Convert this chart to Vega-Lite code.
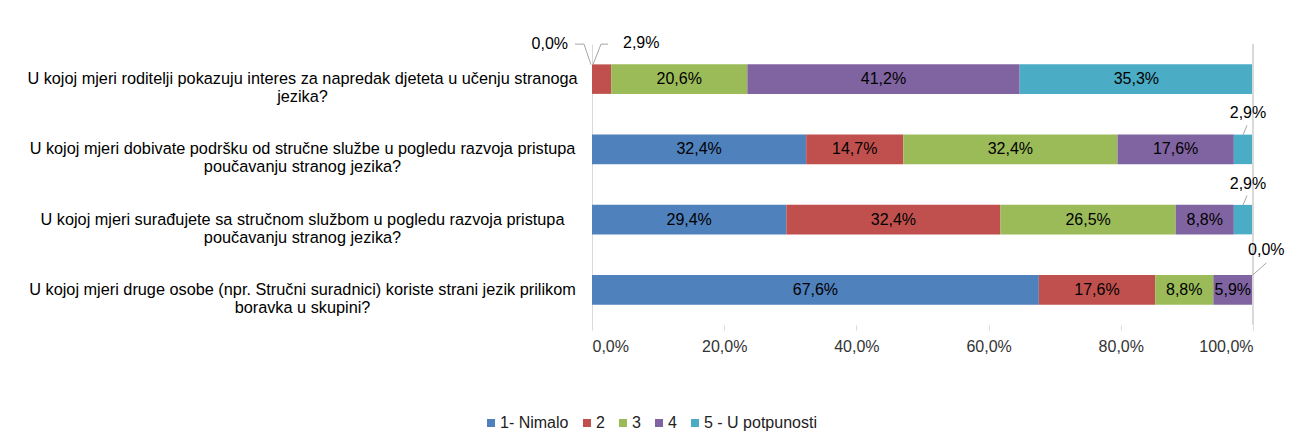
{
  "$schema": "https://vega.github.io/schema/vega-lite/v6.json",
  "width": 661,
  "height": 281,
  "autosize": {"type": "none"},
  "padding": {"left": 592, "top": 44, "right": 38, "bottom": 119},
  "background": "white",
  "config": {
    "locale": {"number": {"decimal": ",", "thousands": ".", "grouping": [3], "currency": ["", " €"]}},
    "font": "Liberation Sans",
    "view": {"stroke": null}
  },
  "data": {
    "values": [
      {"q": "U kojoj mjeri roditelji pokazuju interes za napredak djeteta u učenju stranoga\njezika?", "c": "1- Nimalo", "k": 1, "v": 0.0},
      {"q": "U kojoj mjeri roditelji pokazuju interes za napredak djeteta u učenju stranoga\njezika?", "c": "2", "k": 2, "v": 0.029},
      {"q": "U kojoj mjeri roditelji pokazuju interes za napredak djeteta u učenju stranoga\njezika?", "c": "3", "k": 3, "v": 0.206},
      {"q": "U kojoj mjeri roditelji pokazuju interes za napredak djeteta u učenju stranoga\njezika?", "c": "4", "k": 4, "v": 0.412},
      {"q": "U kojoj mjeri roditelji pokazuju interes za napredak djeteta u učenju stranoga\njezika?", "c": "5 - U potpunosti", "k": 5, "v": 0.353},
      {"q": "U kojoj mjeri dobivate podršku od stručne službe u pogledu razvoja pristupa\npoučavanju stranog jezika?", "c": "1- Nimalo", "k": 1, "v": 0.324},
      {"q": "U kojoj mjeri dobivate podršku od stručne službe u pogledu razvoja pristupa\npoučavanju stranog jezika?", "c": "2", "k": 2, "v": 0.147},
      {"q": "U kojoj mjeri dobivate podršku od stručne službe u pogledu razvoja pristupa\npoučavanju stranog jezika?", "c": "3", "k": 3, "v": 0.324},
      {"q": "U kojoj mjeri dobivate podršku od stručne službe u pogledu razvoja pristupa\npoučavanju stranog jezika?", "c": "4", "k": 4, "v": 0.176},
      {"q": "U kojoj mjeri dobivate podršku od stručne službe u pogledu razvoja pristupa\npoučavanju stranog jezika?", "c": "5 - U potpunosti", "k": 5, "v": 0.029},
      {"q": "U kojoj mjeri surađujete sa stručnom službom u pogledu razvoja pristupa\npoučavanju stranog jezika?", "c": "1- Nimalo", "k": 1, "v": 0.294},
      {"q": "U kojoj mjeri surađujete sa stručnom službom u pogledu razvoja pristupa\npoučavanju stranog jezika?", "c": "2", "k": 2, "v": 0.324},
      {"q": "U kojoj mjeri surađujete sa stručnom službom u pogledu razvoja pristupa\npoučavanju stranog jezika?", "c": "3", "k": 3, "v": 0.265},
      {"q": "U kojoj mjeri surađujete sa stručnom službom u pogledu razvoja pristupa\npoučavanju stranog jezika?", "c": "4", "k": 4, "v": 0.088},
      {"q": "U kojoj mjeri surađujete sa stručnom službom u pogledu razvoja pristupa\npoučavanju stranog jezika?", "c": "5 - U potpunosti", "k": 5, "v": 0.029},
      {"q": "U kojoj mjeri druge osobe (npr. Stručni suradnici) koriste strani jezik prilikom\nboravka u skupini?", "c": "1- Nimalo", "k": 1, "v": 0.676},
      {"q": "U kojoj mjeri druge osobe (npr. Stručni suradnici) koriste strani jezik prilikom\nboravka u skupini?", "c": "2", "k": 2, "v": 0.176},
      {"q": "U kojoj mjeri druge osobe (npr. Stručni suradnici) koriste strani jezik prilikom\nboravka u skupini?", "c": "3", "k": 3, "v": 0.088},
      {"q": "U kojoj mjeri druge osobe (npr. Stručni suradnici) koriste strani jezik prilikom\nboravka u skupini?", "c": "4", "k": 4, "v": 0.059},
      {"q": "U kojoj mjeri druge osobe (npr. Stručni suradnici) koriste strani jezik prilikom\nboravka u skupini?", "c": "5 - U potpunosti", "k": 5, "v": 0.0}
    ]
  },
  "layer": [
    {
      "mark": {"type": "bar"},
      "encoding": {
        "y": {
          "field": "q", "type": "nominal", "sort": null,
          "scale": {"paddingInner": 0.58, "paddingOuter": 0.29},
          "axis": {
            "title": null, "ticks": false, "tickSize": 0,
            "domainColor": "#d9d9d9", "domainWidth": 1,
            "labelAlign": "center", "labelPadding": 290, "labelLimit": 700,
            "labelFontSize": 16.3, "labelColor": "#000000", "labelLineHeight": 18,
            "labelBaseline": "middle",
            "labelExpr": "split(datum.value, '\\n')"
          }
        },
        "x": {
          "field": "v", "type": "quantitative", "stack": "zero",
          "scale": {"domain": [0, 1], "nice": false},
          "axis": {
            "title": null, "format": ".1%", "values": [0, 0.2, 0.4, 0.6, 0.8, 1],
            "grid": false, "domain": false, "ticks": true, "tickSize": 5, "tickColor": "#d9d9d9",
            "labelFontSize": 16, "labelColor": "#333333", "labelPadding": 8
          }
        },
        "color": {
          "field": "c", "type": "nominal",
          "scale": {
            "domain": ["1- Nimalo", "2", "3", "4", "5 - U potpunosti"],
            "range": ["#4F81BD", "#C0504D", "#9BBB59", "#8064A2", "#4BACC6"]
          },
          "legend": {
            "title": null, "orient": "none", "legendX": -109, "legendY": 371,
            "direction": "horizontal", "symbolType": "square", "symbolSize": 64,
            "symbolStrokeWidth": 0, "labelFontSize": 16, "labelColor": "#222222",
            "labelOffset": 1, "columnPadding": 10, "padding": 0
          }
        },
        "order": {"field": "k", "type": "quantitative"}
      }
    },
    {
      "mark": {"type": "text", "fontSize": 16, "color": "#000000", "baseline": "middle", "align": "center"},
      "encoding": {
        "y": {"field": "q", "type": "nominal", "sort": null},
        "x": {"field": "v", "type": "quantitative", "stack": "zero", "bandPosition": 0.5},
        "order": {"field": "k", "type": "quantitative"},
        "text": {
          "condition": {"test": "datum.v >= 0.05", "field": "v", "type": "quantitative", "format": ".1%"},
          "value": ""
        }
      }
    },
    {
      "mark": {"type": "rule", "color": "#d9d9d9", "strokeWidth": 1},
      "encoding": {"x": {"datum": 1, "type": "quantitative"}}
    },
    {
      "transform": [
        {"stack": "v", "groupby": ["q"], "sort": [{"field": "k", "order": "ascending"}], "as": ["x0", "x1"]}
      ],
      "layer": [
        {
          "transform": [{"filter": "datum.k == 1 && indexof(datum.q, 'roditelji') >= 0"}],
          "layer": [
            {
              "mark": {"type": "text", "fontSize": 16, "color": "#000000", "align": "right", "baseline": "middle", "dx": -24, "dy": -35},
              "encoding": {"y": {"field": "q", "type": "nominal", "sort": null}, "x": {"field": "x0", "type": "quantitative"}, "text": {"field": "v", "type": "quantitative", "format": ".1%"}}
            },
            {
              "mark": {"type": "rule", "color": "#a6a6a6", "xOffset": -1, "x2Offset": -8, "yOffset": -14.5, "y2Offset": -35},
              "encoding": {"y": {"field": "q", "type": "nominal", "sort": null}, "x": {"field": "x0", "type": "quantitative"}, "x2": {"field": "x0"}, "y2": {"field": "q"}}
            },
            {
              "mark": {"type": "rule", "color": "#a6a6a6", "xOffset": -8, "x2Offset": -17, "yOffset": -35, "y2Offset": -35},
              "encoding": {"y": {"field": "q", "type": "nominal", "sort": null}, "x": {"field": "x0", "type": "quantitative"}, "x2": {"field": "x0"}, "y2": {"field": "q"}}
            }
          ]
        },
        {
          "transform": [{"filter": "datum.k == 2 && indexof(datum.q, 'roditelji') >= 0"}],
          "layer": [
            {
              "mark": {"type": "text", "fontSize": 16, "color": "#000000", "align": "left", "baseline": "middle", "dx": 31, "dy": -36},
              "encoding": {"y": {"field": "q", "type": "nominal", "sort": null}, "x": {"field": "x0", "type": "quantitative"}, "text": {"field": "v", "type": "quantitative", "format": ".1%"}}
            },
            {
              "mark": {"type": "rule", "color": "#a6a6a6", "xOffset": 1, "x2Offset": 9, "yOffset": -14.5, "y2Offset": -35},
              "encoding": {"y": {"field": "q", "type": "nominal", "sort": null}, "x": {"field": "x0", "type": "quantitative"}, "x2": {"field": "x0"}, "y2": {"field": "q"}}
            },
            {
              "mark": {"type": "rule", "color": "#a6a6a6", "xOffset": 9, "x2Offset": 16, "yOffset": -35, "y2Offset": -35},
              "encoding": {"y": {"field": "q", "type": "nominal", "sort": null}, "x": {"field": "x0", "type": "quantitative"}, "x2": {"field": "x0"}, "y2": {"field": "q"}}
            }
          ]
        },
        {
          "transform": [{"filter": "datum.k == 5 && datum.v > 0 && datum.v < 0.05"}],
          "layer": [
            {
              "mark": {"type": "text", "fontSize": 16, "color": "#000000", "align": "center", "baseline": "middle", "dx": -5, "dy": -36},
              "encoding": {"y": {"field": "q", "type": "nominal", "sort": null}, "x": {"field": "x1", "type": "quantitative"}, "text": {"field": "v", "type": "quantitative", "format": ".1%"}}
            },
            {
              "mark": {"type": "rule", "color": "#a6a6a6", "xOffset": -10, "x2Offset": -6, "yOffset": -14.5, "y2Offset": -24},
              "encoding": {"y": {"field": "q", "type": "nominal", "sort": null}, "x": {"field": "x1", "type": "quantitative"}, "x2": {"field": "x1"}, "y2": {"field": "q"}}
            }
          ]
        },
        {
          "transform": [{"filter": "datum.k == 5 && indexof(datum.q, 'druge osobe') >= 0"}],
          "layer": [
            {
              "mark": {"type": "text", "fontSize": 16, "color": "#000000", "align": "center", "baseline": "middle", "dx": 14, "dy": -40},
              "encoding": {"y": {"field": "q", "type": "nominal", "sort": null}, "x": {"field": "x1", "type": "quantitative"}, "text": {"field": "v", "type": "quantitative", "format": ".1%"}}
            },
            {
              "mark": {"type": "rule", "color": "#a6a6a6", "xOffset": 0, "x2Offset": 14, "yOffset": -14.5, "y2Offset": -27},
              "encoding": {"y": {"field": "q", "type": "nominal", "sort": null}, "x": {"field": "x1", "type": "quantitative"}, "x2": {"field": "x1"}, "y2": {"field": "q"}}
            }
          ]
        }
      ]
    }
  ]
}
